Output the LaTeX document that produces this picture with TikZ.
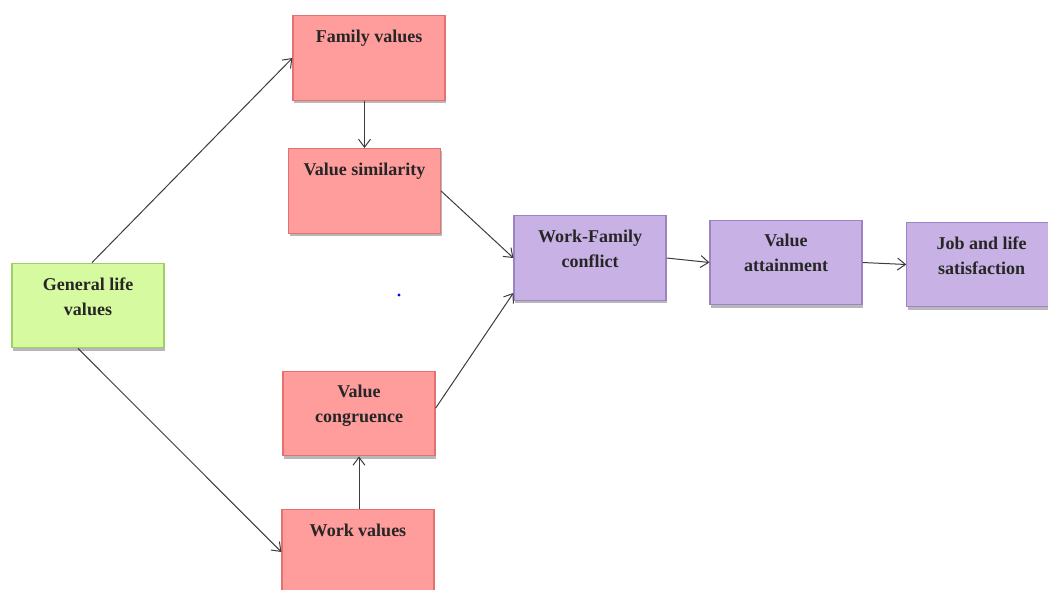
\documentclass[tikz,border=0pt]{standalone}
\usepackage{fontspec}
\setmainfont{Liberation Serif}
\usetikzlibrary{arrows.meta,shadows}
\definecolor{pinkfill}{RGB}{255,156,156}
\definecolor{pinkline}{RGB}{228,112,112}
\definecolor{greenfill}{RGB}{214,250,160}
\definecolor{greenline}{RGB}{162,206,104}
\definecolor{purplefill}{RGB}{200,177,228}
\definecolor{purpleline}{RGB}{156,132,196}
\definecolor{linkgray}{RGB}{60,60,60}
\tikzset{
  box/.style={rectangle, minimum width=114pt, minimum height=63.5pt, line width=0.9pt,
    drop shadow={shadow xshift=0.8pt, shadow yshift=-2pt, fill=black, opacity=0.28}},
  pinkbox/.style={box, draw=pinkline, fill=pinkfill},
  greenbox/.style={box, draw=greenline, fill=greenfill},
  purplebox/.style={box, draw=purpleline, fill=purplefill},
  label text/.style={anchor=north, inner sep=0pt, align=center,
    font=\fontsize{13.5}{18.75}\selectfont\bfseries, text=black!85},
  link/.style={draw=linkgray, line width=0.75pt, -{Straight Barb[length=6pt,width=9pt]}}
}
\begin{document}
\begin{tikzpicture}[x=0.75pt, y=-0.75pt]
  \useasboundingbox (0,0) rectangle (1048,589);
  \clip (0,0) rectangle (1048,589);

  % boxes
  \node[pinkbox]   (fv) at (369,58)    {};
  \node[pinkbox]   (vs) at (364.5,191) {};
  \node[greenbox]  (gl) at (88,305.5)  {};
  \node[pinkbox]   (vc) at (359,413.5) {};
  \node[pinkbox]   (wv) at (358,552)   {};
  \node[purplebox] (wf) at (590,258)   {};
  \node[purplebox] (va) at (786,262.5) {};
  \node[purplebox, minimum width=112pt] (jl) at (981.5,264.5) {};

  % texts, set near the top of each box
  \node[label text] (fv-t) at ([yshift=-11pt]fv.north) {Family values};
  \node[label text] (vs-t) at ([yshift=-11pt]vs.north) {Value similarity};
  \node[label text] (gl-t) at ([yshift=-11pt]gl.north) {General life\\values};
  \node[label text] (vc-t) at ([yshift=-11pt]vc.north) {Value\\congruence};
  \node[label text] (wv-t) at ([yshift=-11pt]wv.north) {Work values};
  \node[label text] (wf-t) at ([yshift=-11pt]wf.north) {Work-Family\\conflict};
  \node[label text] (va-t) at ([yshift=-11pt]va.north) {Value\\attainment};
  \node[label text] (jl-t) at ([yshift=-11pt]jl.north) {Job and life\\satisfaction};

  % connectors
  \draw[link] ([xshift=3pt]gl.north) -- (fv.west);
  \draw[link] ([xshift=-7.5pt]gl.south) -- (wv.west);
  \draw[link] (vs.north |- fv.south) -- (vs.north);
  \draw[link] (vc.south |- wv.north) -- (vc.south);
  \draw[link] (vs.east) -- (wf.west);
  \draw[link] ([yshift=4pt]vc.east) -- ([yshift=6pt]wf.south west);
  \draw[link] (wf.east) -- (va.west);
  \draw[link] (va.east) -- (jl.west);

  % small blue dot
  \fill[blue] (399,295) circle (1.2pt);
\end{tikzpicture}
\end{document}
